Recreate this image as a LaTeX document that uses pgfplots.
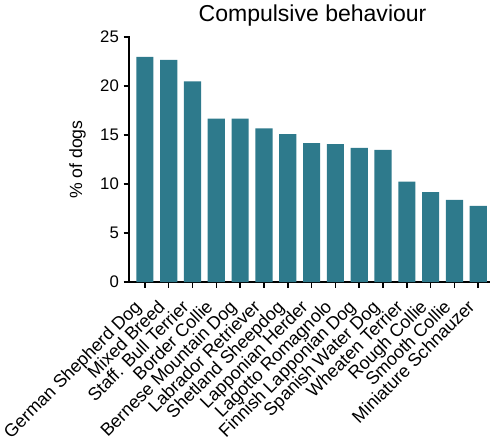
\documentclass[border=0pt]{standalone}
\usepackage{pgfplots}
\pgfplotsset{compat=1.18}
\usepackage{fontspec}
\setmainfont{Liberation Sans}
\definecolor{barteal}{RGB}{46,122,140}
\begin{document}
\begin{tikzpicture}
\begin{axis}[
  scale only axis,
  width=269pt, height=183pt,
  xmin=-0.67, xmax=14.45,
  ymin=0, ymax=25,
  ytick={0,5,10,15,20,25},
  xtick={0,...,14},
  xticklabels={German Shepherd Dog,Mixed Breed,Staff. Bull Terrier,Border Collie,Bernese Mountain Dog,Labrador Retriever,Shetland Sheepdog,Lapponian Herder,Lagotto Romagnolo,Finnish Lapponian Dog,Spanish Water Dog,Wheaten Terrier,Rough Collie,Smooth Collie,Miniature Schnauzer},
  x tick label style={rotate=45, anchor=north east, font=\fontsize{13.4}{14}\selectfont, inner sep=1pt, xshift=-11pt, yshift=1.5pt},
  y tick label style={font=\fontsize{12.5}{13}\selectfont},
  /pgf/number format/assume math mode=true,
  axis lines*=left,
  axis line style={line width=1.5pt, line cap=rect},
  tick style={line width=1.2pt, black},
  tick align=outside,
  major tick length=4pt,
  ylabel={\% of dogs},
  ylabel style={font=\fontsize{13.2}{14}\selectfont, yshift=4pt},
  title={Compulsive behaviour},
  title style={font=\fontsize{17.2}{18}\selectfont, at={(0.51,1)}, anchor=base, yshift=6pt},
  clip=false,
]
\addplot[ybar, bar width=0.72, fill=barteal, draw=none] coordinates {
(0,23.0) (1,22.7) (2,20.5) (3,16.7) (4,16.7) (5,15.7) (6,15.1) (7,14.2) (8,14.1) (9,13.7) (10,13.5) (11,10.25) (12,9.2) (13,8.4) (14,7.8)
};
\path (rel axis cs:0.5,1) ++(0pt,27pt);
\end{axis}
\end{tikzpicture}
\end{document}
